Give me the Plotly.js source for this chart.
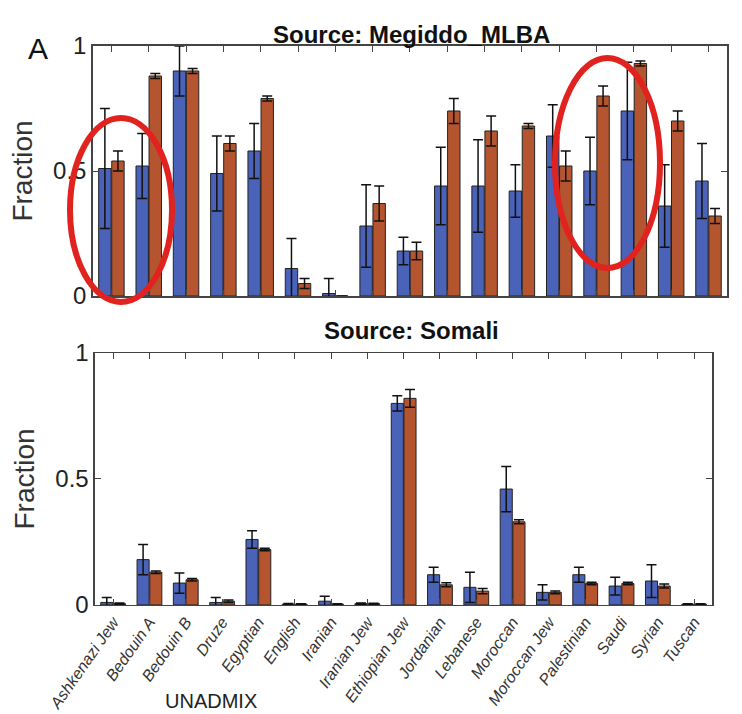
<!DOCTYPE html>
<html><head><meta charset="utf-8">
<script src="https://cdn.plot.ly/plotly-3.0.1.min.js"></script>
<style>body{margin:0}#c{width:742px;height:714px}</style></head>
<body><div id="c"></div>
<script>
const categories=["Ashkenazi Jew","Bedouin A","Bedouin B","Druze","Egyptian","English","Iranian","Iranian Jew","Ethiopian Jew","Jordanian","Lebanese","Moroccan","Moroccan Jew","Palestinian","Saudi","Syrian","Tuscan"];
const megBlue=[0.51,0.52,0.90,0.49,0.58,0.11,0.01,0.28,0.18,0.44,0.44,0.42,0.64,0.50,0.74,0.36,0.46];
const megBlueErr=[0.24,0.13,0.10,0.15,0.11,0.12,0.06,0.165,0.055,0.155,0.185,0.105,0.125,0.135,0.195,0.165,0.15];
const megOrange=[0.54,0.88,0.90,0.61,0.79,0.05,0.0,0.37,0.18,0.74,0.66,0.68,0.52,0.80,0.93,0.70,0.32];
const megOrangeErr=[0.04,0.01,0.01,0.03,0.01,0.02,0.0,0.07,0.035,0.05,0.06,0.01,0.06,0.04,0.01,0.04,0.03];
const somBlue=[0.01,0.18,0.087,0.01,0.26,0.003,0.015,0.005,0.80,0.12,0.07,0.46,0.05,0.12,0.075,0.095,0.003];
const somBlueErr=[0.02,0.06,0.04,0.02,0.035,0.003,0.02,0.003,0.03,0.03,0.06,0.09,0.03,0.03,0.035,0.065,0.002];
const somOrange=[0.005,0.13,0.10,0.015,0.22,0.003,0.003,0.005,0.82,0.08,0.055,0.33,0.05,0.085,0.085,0.075,0.003];
const somOrangeErr=[0.003,0.005,0.005,0.005,0.005,0.002,0.002,0.002,0.035,0.008,0.01,0.008,0.005,0.005,0.005,0.008,0.002];
const blue="#4a62b8", orange="#b4552f";
function bar(y,e,c,xa,ya){return {type:"bar",x:categories,y:y,xaxis:xa,yaxis:ya,
 marker:{color:c,line:{color:"#222",width:1}},
 error_y:{type:"data",array:e,visible:true,color:"#111",thickness:1.5,width:5},showlegend:false};}
const data=[bar(megBlue,megBlueErr,blue,"x","y"),bar(megOrange,megOrangeErr,orange,"x","y"),
 bar(somBlue,somBlueErr,blue,"x2","y2"),bar(somOrange,somOrangeErr,orange,"x2","y2")];
const ax={showline:true,mirror:"ticks",linecolor:"#444",linewidth:1.5,ticks:"inside",ticklen:6,tickcolor:"#444",showgrid:false,zeroline:false};
const yax=Object.assign({},ax,{range:[0,1],tickvals:[0,0.5,1],ticktext:["0","0.5","1"],tickfont:{family:"Liberation Sans",size:24,color:"#222"},
 title:{text:"Fraction",font:{family:"Liberation Sans",size:28,color:"#333"},standoff:12}});
const layout={width:742,height:714,margin:{l:0,r:0,t:0,b:0},paper_bgcolor:"#fff",plot_bgcolor:"#fff",
 barmode:"group",bargap:0.3,bargroupgap:0.05,
 xaxis:Object.assign({},ax,{domain:[0.125,0.98],anchor:"y",showticklabels:false}),
 yaxis:Object.assign({},yax,{domain:[0.5854,0.9356],anchor:"x"}),
 xaxis2:Object.assign({},ax,{domain:[0.128,0.96],anchor:"y2",tickangle:-55,tickfont:{family:"Liberation Sans",size:16,color:"#333",style:"italic"}}),
 yaxis2:Object.assign({},yax,{domain:[0.1527,0.5056],anchor:"x2"}),
 annotations:[
  {text:"<b>Source: Megiddo_MLBA</b>",xref:"paper",yref:"paper",x:0.555,y:0.974,showarrow:false,font:{family:"Liberation Sans",size:24,color:"#111"}},
  {text:"<b>Source: Somali</b>",xref:"paper",yref:"paper",x:0.555,y:0.537,showarrow:false,font:{family:"Liberation Sans",size:24,color:"#111"}},
  {text:"A",xref:"paper",yref:"paper",x:0.035,y:0.958,showarrow:false,font:{family:"Liberation Sans",size:30,color:"#111"}},
  {text:"UNADMIX",xref:"paper",yref:"paper",x:0.22,y:0.0,yanchor:"bottom",showarrow:false,font:{family:"Liberation Sans",size:20,color:"#222"}}
 ],
 shapes:[
  {type:"circle",xref:"paper",yref:"paper",x0:70/742,x1:172/742,y0:1-302/714,y1:1-118/714,line:{color:"#e0231e",width:6}},
  {type:"circle",xref:"paper",yref:"paper",x0:555/742,x1:660/742,y0:1-268/714,y1:1-58/714,line:{color:"#e0231e",width:6}}
 ]};
Plotly.newPlot("c",data,layout,{displayModeBar:false,staticPlot:true});
</script></body></html>
